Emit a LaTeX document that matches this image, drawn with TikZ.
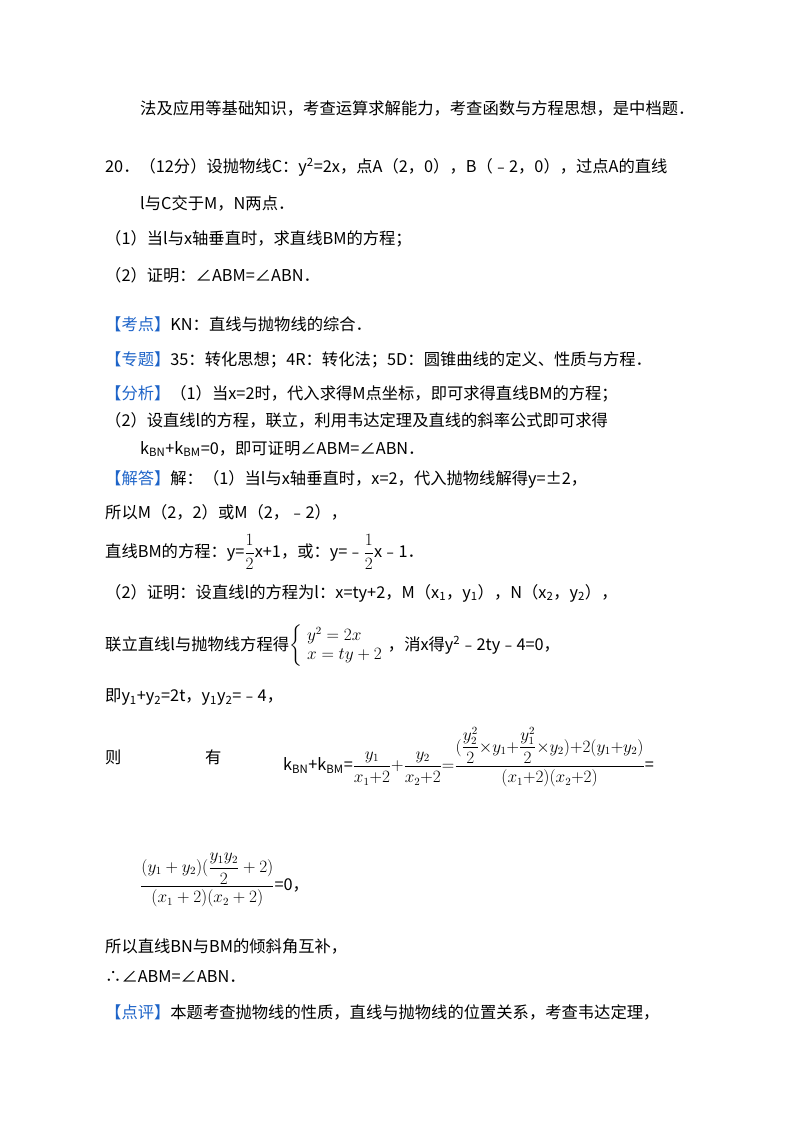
\documentclass[tikz,border=0pt]{standalone}
\usepackage{amsmath}
\usepackage{fontspec}
\setmainfont{Noto Sans CJK SC}
\definecolor{kblue}{RGB}{30,100,200}
\begin{document}
\begin{tikzpicture}[x=1pt,y=-1pt,
  t/.style={anchor=west,inner sep=0pt,font=\fontsize{16.3}{19}\selectfont},
  b/.style={text=kblue}]
\useasboundingbox (0,0) rectangle (800,1132);
\node[t] (l1) at (140,108) {法及应用等基础知识，考查运算求解能力，考查函数与方程思想，是中档题．};
\node[t] (l2) at (105,167) {20．（12分）设抛物线C：y\textsuperscript{2}=2x，点A（2，0），B（﹣2，0），过点A的直线};
\node[t] (l3) at (140,203) {l与C交于M，N两点．};
\node[t] (l4) at (105,239) {（1）当l与x轴垂直时，求直线BM的方程；};
\node[t] (l5) at (105,275) {（2）证明：∠ABM=∠ABN．};
\node[t] (l6) at (105,324) {\textcolor{kblue}{【考点】}KN：直线与抛物线的综合．};
\node[t] (l7) at (105,360) {\textcolor{kblue}{【专题】}35：转化思想；4R：转化法；5D：圆锥曲线的定义、性质与方程．};
\node[t] (l8) at (105,394) {\textcolor{kblue}{【分析】}（1）当x=2时，代入求得M点坐标，即可求得直线BM的方程；};
\node[t] (l9) at (105,420) {（2）设直线l的方程，联立，利用韦达定理及直线的斜率公式即可求得};
\node[t] (l10) at (140,449) {k\textsubscript{BN}+k\textsubscript{BM}=0，即可证明∠ABM=∠ABN．};
\node[t] (l11) at (105,479) {\textcolor{kblue}{【解答】}解：（1）当l与x轴垂直时，x=2，代入抛物线解得y=±2，};
\node[t] (l12) at (105,512) {所以M（2，2）或M（2，﹣2），};
\node[t] (l13) at (105,552) {直线BM的方程：y=$\dfrac{1}{2}$x+1，或：y=﹣$\dfrac{1}{2}$x﹣1．};
\node[t] (l14) at (105,593) {（2）证明：设直线l的方程为l：x=ty+2，M（x\textsubscript{1}，y\textsubscript{1}），N（x\textsubscript{2}，y\textsubscript{2}），};
\node[t] (l15) at (105,646) {联立直线l与抛物线方程得$\left\{\begin{array}{l}y^2=2x\\ x=ty+2\end{array}\right.$，消x得y\textsuperscript{2}﹣2ty﹣4=0，};
\node[t] (l16) at (105,697) {即y\textsubscript{1}+y\textsubscript{2}=2t，y\textsubscript{1}y\textsubscript{2}=﹣4，};
\node[t] (l17a) at (105,757) {则};
\node[t] (l17b) at (205,757) {有};
\node[t] (l17c) at (283,757) {k\textsubscript{BN}+k\textsubscript{BM}=$\dfrac{y_1}{x_1{+}2}{+}\dfrac{y_2}{x_2{+}2}{=}\dfrac{(\dfrac{y_2^2}{2}{\times} y_1{+}\dfrac{y_1^2}{2}{\times} y_2){+}2(y_1{+}y_2)}{(x_1{+}2)(x_2{+}2)}$=};
\node[t] (l18) at (140,880) {$\dfrac{(y_1+y_2)(\dfrac{y_1y_2}{2}+2)}{(x_1+2)(x_2+2)}$=0，};
\node[t] (l19) at (105,946) {所以直线BN与BM的倾斜角互补，};
\node[t] (l20) at (105,977) {∴∠ABM=∠ABN．};
\node[t] (l21) at (105,1012) {\textcolor{kblue}{【点评】}本题考查抛物线的性质，直线与抛物线的位置关系，考查韦达定理，};
\end{tikzpicture}
\end{document}
